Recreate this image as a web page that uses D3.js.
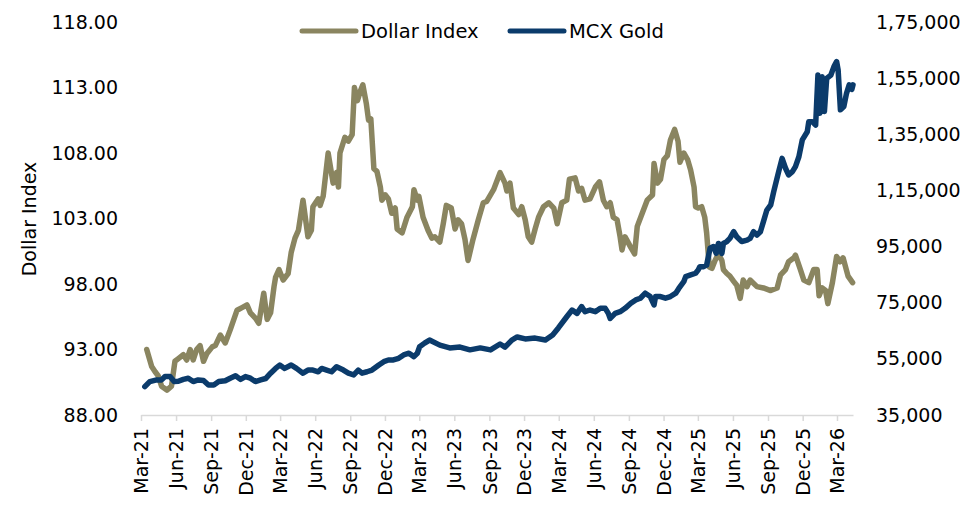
<!DOCTYPE html>
<html>
<head>
<meta charset="utf-8">
<script src="https://cdn.jsdelivr.net/npm/d3@7"></script>
<style type="text/css">
  body{
    margin: 0px;
    background: white;
  }
  svg text{
    font-family: 'DejaVu Sans', sans-serif;
    fill: #000;
  }
</style>
</head>
<body>

<div id="chart"></div>

<script>

// Dollar Index (left axis)
var dxDates = [
  "2021-03-16","2021-03-29","2021-04-07","2021-04-15","2021-04-24","2021-05-08","2021-05-20","2021-05-29",
  "2021-06-07","2021-06-20","2021-06-29","2021-07-08","2021-07-16","2021-07-25","2021-08-03","2021-08-12",
  "2021-08-21","2021-09-04","2021-09-12","2021-09-25","2021-10-08","2021-10-21","2021-11-08","2021-11-21",
  "2021-12-04","2021-12-13","2021-12-26","2022-01-04","2022-01-17","2022-01-26","2022-02-04","2022-02-13",
  "2022-02-17","2022-02-26","2022-03-09","2022-03-22","2022-03-30","2022-04-09","2022-04-18","2022-04-30",
  "2022-05-13","2022-05-22","2022-05-26","2022-06-09","2022-06-14","2022-06-22","2022-07-05","2022-07-18",
  "2022-07-27","2022-08-01","2022-08-05","2022-08-18","2022-08-27","2022-09-06","2022-09-12","2022-09-20",
  "2022-09-27","2022-10-04","2022-10-13","2022-10-19","2022-10-25","2022-11-02","2022-11-10","2022-11-19",
  "2022-11-23","2022-12-02","2022-12-10","2022-12-19","2022-12-28","2023-01-02","2023-01-15","2023-01-28",
  "2023-02-11","2023-02-15","2023-02-24","2023-02-28","2023-03-11","2023-03-24","2023-04-03","2023-04-11",
  "2023-04-24","2023-05-03","2023-05-11","2023-05-24","2023-06-03","2023-06-11","2023-06-20","2023-06-29",
  "2023-07-07","2023-07-20","2023-08-03","2023-08-16","2023-08-25","2023-09-12","2023-09-29","2023-10-12",
  "2023-10-17","2023-10-25","2023-11-03","2023-11-17","2023-11-25","2023-12-04","2023-12-12","2023-12-21",
  "2023-12-30","2024-01-08","2024-01-21","2024-02-04","2024-02-17","2024-02-26","2024-03-09","2024-03-22",
  "2024-03-29","2024-04-13","2024-04-22","2024-04-30","2024-05-09","2024-05-22","2024-06-05","2024-06-16",
  "2024-06-26","2024-07-05","2024-07-14","2024-07-22","2024-08-01","2024-08-09","2024-08-14","2024-08-22",
  "2024-09-06","2024-09-16","2024-09-23","2024-10-06","2024-10-19","2024-11-02","2024-11-06","2024-11-15",
  "2024-11-23","2024-12-02","2024-12-11","2024-12-19","2024-12-30","2025-01-08","2025-01-13","2025-01-23",
  "2025-02-02","2025-02-10","2025-02-19","2025-02-23","2025-03-02","2025-03-11","2025-03-19","2025-03-24",
  "2025-03-31","2025-04-07","2025-04-15","2025-04-24","2025-05-03","2025-05-07","2025-05-16","2025-05-24",
  "2025-06-03","2025-06-11","2025-06-20","2025-06-28","2025-07-08","2025-07-16","2025-08-03","2025-08-20",
  "2025-09-08","2025-09-25","2025-10-04","2025-10-17","2025-10-25","2025-11-08","2025-11-12","2025-11-25",
  "2025-12-04","2025-12-17","2025-12-30","2026-01-08","2026-01-13","2026-01-21","2026-01-30","2026-02-05",
  "2026-02-17","2026-02-28","2026-03-09","2026-03-17","2026-03-30","2026-04-11"
];
var dxValues = [
  93.0,91.7,91.3,91.0,90.2,89.9,90.2,92.1,
  92.3,92.6,92.2,93.0,92.2,93.0,93.3,92.1,
  92.7,93.2,93.3,94.1,93.5,94.5,96.0,96.2,
  96.4,95.8,95.4,95.0,97.3,95.3,95.8,97.8,
  98.5,99.1,98.3,98.8,100.4,101.5,102.1,104.4,
  101.6,102.1,103.9,104.5,104.0,104.7,108.0,105.7,
  106.5,105.4,108.0,109.2,108.9,109.4,113.0,112.0,
  112.7,113.2,111.8,110.5,110.6,106.8,106.6,105.4,
  104.4,104.8,104.5,103.4,103.8,102.2,101.9,103.1,
  103.9,105.2,104.4,104.7,103.1,102.1,101.5,101.6,
  101.2,102.6,104.0,103.8,102.2,102.9,102.6,101.4,
  99.8,101.4,102.9,104.2,104.3,105.2,106.5,105.7,
  105.1,105.7,103.8,103.3,103.9,102.9,101.6,101.2,
  102.2,103.1,103.9,104.2,103.8,102.6,104.2,104.4,
  106.0,106.1,105.1,105.3,104.4,104.5,105.4,105.8,
  104.4,103.9,104.2,103.1,102.9,101.6,100.6,101.6,
  100.8,100.3,102.4,103.4,104.4,104.8,107.2,105.7,
  106.0,107.5,107.8,109.0,109.8,108.9,107.3,108.0,
  107.5,106.7,105.4,103.9,103.8,103.9,103.1,101.9,
  99.3,99.2,99.8,100.3,99.8,99.1,98.8,98.6,
  98.2,97.9,96.9,98.3,97.8,98.3,97.8,97.7,
  97.5,97.7,98.7,99.1,99.7,100.0,100.2,99.1,
  98.3,98.1,99.1,99.1,97.1,97.7,97.5,96.5,
  98.1,100.1,99.7,100.0,98.6,98.1
];

// MCX Gold (right axis)
var goldDates = [
  "2021-03-11","2021-03-24","2021-04-11","2021-04-24","2021-05-03","2021-05-16","2021-05-27","2021-06-07",
  "2021-06-20","2021-07-03","2021-07-16","2021-07-29","2021-08-12","2021-08-25","2021-09-08","2021-09-21",
  "2021-10-08","2021-10-21","2021-11-04","2021-11-17","2021-11-30","2021-12-13","2021-12-26","2022-01-09",
  "2022-01-22","2022-02-04","2022-02-17","2022-02-28","2022-03-13","2022-03-30","2022-04-13","2022-04-30",
  "2022-05-13","2022-05-26","2022-06-09","2022-06-18","2022-07-01","2022-07-14","2022-07-27","2022-08-14",
  "2022-08-27","2022-09-10","2022-09-22","2022-10-02","2022-10-15","2022-10-28","2022-11-15","2022-11-28",
  "2022-12-10","2022-12-23","2023-01-06","2023-01-19","2023-02-02","2023-02-15","2023-02-24","2023-03-02",
  "2023-03-15","2023-03-28","2023-04-24","2023-05-20","2023-06-16","2023-07-12","2023-08-08","2023-09-04",
  "2023-09-29","2023-10-12","2023-10-30","2023-11-13","2023-12-04","2023-12-30","2024-01-26","2024-02-14",
  "2024-02-29","2024-03-22","2024-04-05","2024-04-18","2024-04-30","2024-05-09","2024-05-22","2024-06-05",
  "2024-06-18","2024-07-01","2024-07-09","2024-07-14","2024-07-27","2024-08-09","2024-08-22","2024-09-06",
  "2024-09-19","2024-10-01","2024-10-14","2024-10-27","2024-11-06","2024-11-10","2024-11-23","2024-12-06",
  "2024-12-19","2025-01-02","2025-01-10","2025-01-23","2025-01-28","2025-02-10","2025-02-23","2025-03-02",
  "2025-03-06","2025-03-15","2025-03-24","2025-04-02","2025-04-11","2025-04-18","2025-04-24","2025-05-03",
  "2025-05-07","2025-05-16","2025-05-24","2025-06-03","2025-06-11","2025-06-24","2025-07-08","2025-07-16",
  "2025-07-25","2025-08-03","2025-08-12","2025-08-20","2025-08-29","2025-09-08","2025-09-16","2025-09-29",
  "2025-10-08","2025-10-17","2025-10-25","2025-11-04","2025-11-12","2025-11-21","2025-11-30","2025-12-13",
  "2025-12-17","2025-12-26","2026-01-04","2026-01-10","2026-01-15","2026-01-21","2026-01-27","2026-02-02",
  "2026-02-13","2026-02-21","2026-02-28","2026-03-04","2026-03-10","2026-03-19","2026-03-26","2026-04-02",
  "2026-04-09","2026-04-12"
];
var goldValues = [
  45100,46900,47500,47500,48700,48700,46900,47000,
  47700,48100,46900,47500,47300,45700,45700,46900,
  47200,48100,49000,47700,48700,48100,46900,47500,
  48000,49900,51600,52800,51600,52800,51600,49900,
  51000,51000,50400,51600,51000,50400,52200,51000,
  49900,49300,51000,49900,50400,51000,52800,54000,
  54600,54600,55200,56400,57000,55800,57000,59300,
  60600,61700,59900,58900,59200,58200,58900,58200,
  60300,59200,61700,62800,62100,62400,61700,63500,
  66000,70000,72400,71200,73600,71800,72400,71800,
  73000,73000,71200,69400,71200,71800,73000,74800,
  76000,76600,78400,77200,74200,77200,77200,76600,
  77200,78400,80100,82500,84300,84900,85500,86700,
  87800,87800,88400,94400,95000,92600,96100,92600,
  96100,96800,97900,100300,98500,96800,97300,97900,
  100300,99100,100300,103900,108000,109800,114600,121700,
  126400,122900,120500,121700,123500,127000,133000,135900,
  139500,139500,138300,156100,142500,155500,143100,154900,
  156100,159100,160900,157900,143700,144900,149600,152600,
  151000,152600
];

var leftTicks = [88, 93, 98, 103, 108, 113, 118];
var rightTicks = [35000, 55000, 75000, 95000, 115000, 135000, 155000, 175000];
var xTickDates = [
  "2021-03-01","2021-06-01","2021-09-01","2021-12-01","2022-03-01","2022-06-01","2022-09-01","2022-12-01",
  "2023-03-01","2023-06-01","2023-09-01","2023-12-01","2024-03-01","2024-06-01","2024-09-01","2024-12-01",
  "2025-03-01","2025-06-01","2025-09-01","2025-12-01","2026-03-01"
];
var seriesNames = ["Dollar Index", "MCX Gold"];
var seriesColors = ["#8a8560", "#0b3b6b"];

var width = 964, height = 505;
var margin = {top: 22, right: 111, bottom: 90, left: 141};
var plotW = width - margin.left - margin.right;
var plotH = height - margin.top - margin.bottom;

var parse = d3.timeParse("%Y-%m-%d");

var dxData = dxDates.map(function(d, i) { return {date: parse(d), value: dxValues[i]}; });
var goldData = goldDates.map(function(d, i) { return {date: parse(d), value: goldValues[i]}; });

var x = d3.scaleTime()
  .domain([parse("2021-03-01"), parse("2026-04-12")])
  .range([0, plotW]);

var yLeft = d3.scaleLinear().domain([88, 118]).range([plotH, 0]);
var yRight = d3.scaleLinear().domain([35000, 175000]).range([plotH, 0]);

// indian style grouping: 1,75,000
function indianFormat(n) {
  var s = String(Math.round(n));
  if (s.length <= 3) return s;
  var last3 = s.slice(-3);
  var rest = s.slice(0, -3);
  rest = rest.replace(/\B(?=(\d{2})+(?!\d))/g, ",");
  return rest + "," + last3;
}

var svg = d3.select("#chart").append("svg")
  .attr("width", width)
  .attr("height", height);

var g = svg.append("g")
  .attr("transform", "translate(" + margin.left + "," + margin.top + ")");

// left axis
var leftAxis = g.append("g")
  .call(d3.axisLeft(yLeft).tickValues(leftTicks).tickFormat(d3.format(".2f")).tickSize(0).tickPadding(23));
leftAxis.select(".domain").remove();
leftAxis.selectAll("text").style("font-size", "19px");

// right axis
var rightAxis = g.append("g")
  .attr("transform", "translate(" + plotW + ",0)")
  .call(d3.axisRight(yRight).tickValues(rightTicks).tickFormat(indianFormat).tickSize(0).tickPadding(23));
rightAxis.select(".domain").remove();
rightAxis.selectAll("text").style("font-size", "19px");

// bottom axis
var bottomAxis = g.append("g")
  .attr("transform", "translate(0," + plotH + ")")
  .call(d3.axisBottom(x).tickValues(xTickDates.map(parse)).tickFormat(d3.timeFormat("%b-%y")).tickSize(6).tickSizeOuter(0));
bottomAxis.select(".domain").attr("stroke", "#d9d9d9").attr("stroke-width", 1.5);
bottomAxis.selectAll(".tick line").attr("stroke", "#d9d9d9").attr("stroke-width", 1.5);
bottomAxis.selectAll("text")
  .style("font-size", "19px")
  .attr("text-anchor", "end")
  .attr("transform", "rotate(-90)")
  .attr("x", -13)
  .attr("y", 0)
  .attr("dy", "0.35em");

// axis title
svg.append("text")
  .attr("transform", "translate(36,219) rotate(-90)")
  .attr("text-anchor", "middle")
  .style("font-size", "19px")
  .text("Dollar Index");

// lines
var dxLine = d3.line()
  .x(function(d) { return x(d.date); })
  .y(function(d) { return yLeft(d.value); });

var goldLine = d3.line()
  .x(function(d) { return x(d.date); })
  .y(function(d) { return yRight(d.value); });

g.append("path")
  .datum(dxData)
  .attr("fill", "none")
  .attr("stroke", seriesColors[0])
  .attr("stroke-width", 5.5)
  .attr("stroke-linejoin", "round")
  .attr("stroke-linecap", "round")
  .attr("d", dxLine);

g.append("path")
  .datum(goldData)
  .attr("fill", "none")
  .attr("stroke", seriesColors[1])
  .attr("stroke-width", 5.5)
  .attr("stroke-linejoin", "round")
  .attr("stroke-linecap", "round")
  .attr("d", goldLine);

// legend
var legendX = [302, 510];
var legend = svg.append("g");
seriesNames.forEach(function(name, i) {
  legend.append("line")
    .attr("x1", legendX[i]).attr("x2", legendX[i] + 54)
    .attr("y1", 31).attr("y2", 31)
    .attr("stroke", seriesColors[i])
    .attr("stroke-width", 5)
    .attr("stroke-linecap", "round");
  legend.append("text")
    .attr("x", legendX[i] + 59)
    .attr("y", 31)
    .attr("dy", "0.35em")
    .style("font-size", "19.5px")
    .text(name);
});

</script>

</body>
</html>
